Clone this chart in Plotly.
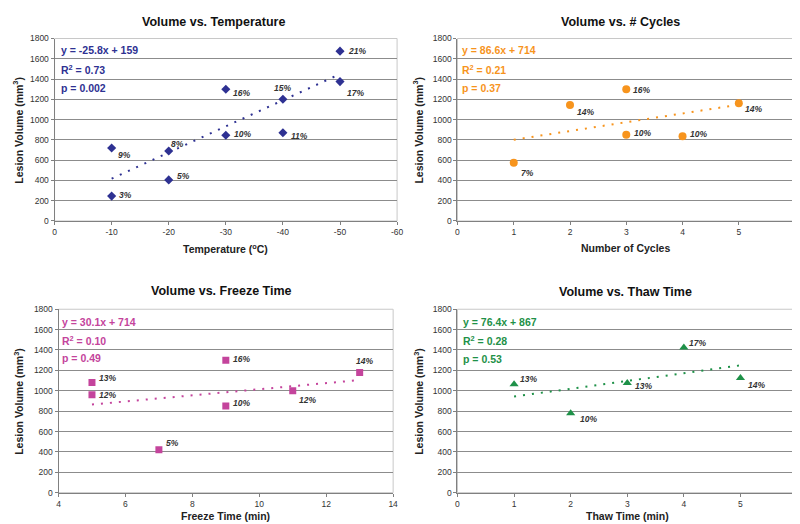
import plotly.graph_objects as go

W, H = 800, 524

# ---------------- data ----------------
temp_x = [-10, -10, -20, -20, -30, -30, -40, -40, -50, -50]
temp_y = [720, 245, 690, 405, 1300, 845, 1200, 870, 1675, 1375]
temp_lbl = ["9%", "3%", "8%", "5%", "16%", "10%", "15%", "11%", "21%", "17%"]
temp_trend_x = [-10, -50]
temp_trend_y = [417, 1449]

cyc_x = [1, 2, 3, 3, 4, 5]
cyc_y = [575, 1145, 1300, 850, 835, 1160]
cyc_lbl = ["7%", "14%", "16%", "10%", "10%", "14%"]
cyc_trend_x = [1, 5]
cyc_trend_y = [801, 1147]

frz_x = [5, 5, 7, 9, 9, 11, 13]
frz_y = [1080, 960, 420, 1300, 850, 1000, 1180]
frz_lbl = ["13%", "12%", "5%", "16%", "10%", "12%", "14%"]
frz_trend_x = [5, 13]
frz_trend_y = [865, 1105]

thaw_x = [1, 2, 3, 4, 5]
thaw_y = [1065, 780, 1075, 1425, 1125]
thaw_lbl = ["13%", "10%", "13%", "17%", "14%"]
thaw_trend_x = [1, 5]
thaw_trend_y = [943, 1249]

titles = ["Volume vs. Temperature", "Volume vs. # Cycles",
          "Volume vs. Freeze Time", "Volume vs. Thaw Time"]
xtitles = ["Temperature (<sup>o</sup>C)", "Number of Cycles",
           "Freeze Time (min)", "Thaw Time (min)"]
ytitle = "Lesion Volume (mm<sup>3</sup>)"
equations = [["y = -25.8x + 159", "R<sup>2</sup> = 0.73", "p = 0.002"],
             ["y = 86.6x + 714", "R<sup>2</sup> = 0.21", "p = 0.37"],
             ["y = 30.1x + 714", "R<sup>2</sup> = 0.10", "p = 0.49"],
             ["y = 76.4x + 867", "R<sup>2</sup> = 0.28", "p = 0.53"]]

temp_ticks = [0, -10, -20, -30, -40, -50, -60]
temp_ticktext = ["0", "-10", "-20", "-30", "-40", "-50", "-60"]

# ---------------- styling / layout ----------------
FONT = "Liberation Sans, Arial, sans-serif"
colors = ["#2E3192", "#F7941D", "#C4449C", "#1E9148"]
symbols = ["diamond", "circle", "square", "triangle-up"]
msizes = [7, 8, 7, 8]

# plot areas in pixels: (left, right, top, bottom)
boxes = [(45, 391, 26, 212), (452, 793, 26, 212),
         (49, 387, 302, 489), (452, 795, 302, 489)]

# label offsets (dx px right, dy px down, anchor)
offs = [
    [(4, 7, "left"), (5, -1, "left"), (0, -7, "left"), (6, -4, "left"), (5, 4, "left"),
     (6, -1, "left"), (0, -11, "center"), (6, 3, "left"), (6, 0, "left"), (5, 11, "left")],
    [(5, 10, "left"), (5, 7, "left"), (5, 1, "left"), (6, -2, "left"), (5, -2, "left"), (4, 6, "left")],
    [(5, -5, "left"), (5, 0, "left"), (5, -7, "left"), (5, -1, "left"), (5, -3, "left"),
     (4, 9, "left"), (5, -11, "center")],
    [(4, -5, "left"), (7, 6, "left"), (6, 3, "left"), (3, -4, "left"), (6, 7, "left")],
]

panels = [
    (temp_x, temp_y, temp_lbl, temp_trend_x, temp_trend_y),
    (cyc_x, cyc_y, cyc_lbl, cyc_trend_x, cyc_trend_y),
    (frz_x, frz_y, frz_lbl, frz_trend_x, frz_trend_y),
    (thaw_x, thaw_y, thaw_lbl, thaw_trend_x, thaw_trend_y),
]
xranges = [[0, -60], [0, 6], [4, 14], [0, 6]]
xdticks = [10, 1, 2, 1]


def px(x, y):
    return x / W, 1 - y / H


fig = go.Figure()
annotations = []
shapes = []
layout = {}

title_pos = [(206, 9), (617, 9), (214, 283), (622, 284)]
xtitle_pos = [(218, 240), (622, 240), (218, 513), (624, 513)]
ytitle_x = [8, 412, 9, 413]
eq_left = [49, 455, 51, 456]
eq_rows = [(38, 58, 76), (38, 58, 76), (315, 334, 352), (315, 334, 353)]

for i, (xs, ys, lbls, tx, ty) in enumerate(panels):
    n = i + 1
    xa = "x" if n == 1 else f"x{n}"
    ya = "y" if n == 1 else f"y{n}"
    L, R, T, B = boxes[i]
    fig.add_trace(go.Scatter(
        x=tx, y=ty, mode="lines", xaxis=xa, yaxis=ya,
        line=dict(color=colors[i], width=2, dash="2px,7px"), showlegend=False))
    fig.add_trace(go.Scatter(
        x=xs, y=ys, mode="markers", xaxis=xa, yaxis=ya,
        marker=dict(color=colors[i], symbol=symbols[i], size=msizes[i],
                    line=dict(width=0)), showlegend=False))

    xkey = "xaxis" if n == 1 else f"xaxis{n}"
    ykey = "yaxis" if n == 1 else f"yaxis{n}"
    xd = dict(domain=[L / W, R / W], anchor=ya, range=xranges[i],
              showgrid=False, zeroline=False, showline=True,
              linecolor="#808080", linewidth=1, ticks="outside", ticklen=3,
              tickcolor="#808080", tickfont=dict(family=FONT, size=8.5, color="#333333"),
              fixedrange=True)
    if i == 0:
        xd.update(tickmode="array", tickvals=temp_ticks, ticktext=temp_ticktext)
    else:
        xd.update(dtick=xdticks[i], tick0=0)
    layout[xkey] = xd
    layout[ykey] = dict(domain=[1 - B / H, 1 - T / H], anchor=xa, range=[0, 1800],
                        dtick=200, showgrid=True, gridcolor="#8c8c8c", gridwidth=1,
                        zeroline=False, showline=True, linecolor="#808080",
                        ticks="outside", ticklen=3, tickcolor="#808080",
                        tickfont=dict(family=FONT, size=8.5, color="#333333"),
                        fixedrange=True)
    # plot frame (light top/right border)
    shapes.append(dict(type="rect", xref=f"{xa} domain", yref=f"{ya} domain",
                       x0=0, x1=1, y0=0, y1=1, line=dict(color="#c8c8c8", width=1),
                       layer="below"))

    # titles
    tx_, ty_ = px(*title_pos[i])
    annotations.append(dict(x=tx_, y=ty_, xref="paper", yref="paper", text=f"<b>{titles[i]}</b>",
                            showarrow=False, xanchor="center", yanchor="middle",
                            font=dict(family=FONT, size=12.5, color="#111111")))
    ax_, ay_ = px(*xtitle_pos[i])
    annotations.append(dict(x=ax_, y=ay_, xref="paper", yref="paper", text=f"<b>{xtitles[i]}</b>",
                            showarrow=False, xanchor="center", yanchor="middle",
                            font=dict(family=FONT, size=10.5, color="#222222")))
    yx_, yy_ = px(ytitle_x[i], (T + B) / 2)
    annotations.append(dict(x=yx_, y=yy_, xref="paper", yref="paper", text=f"<b>{ytitle}</b>",
                            showarrow=False, xanchor="center", yanchor="middle",
                            textangle=-90,
                            font=dict(family=FONT, size=10.5, color="#222222")))
    # equations
    for k, line in enumerate(equations[i]):
        ex, ey = px(eq_left[i], eq_rows[i][k])
        annotations.append(dict(x=ex, y=ey, xref="paper", yref="paper", text=f"<b>{line}</b>",
                                showarrow=False, xanchor="left", yanchor="middle",
                                font=dict(family=FONT, size=10.5, color=colors[i])))
    # point labels
    for (xv, yv, lb, (dx, dy, anc)) in zip(xs, ys, lbls, offs[i]):
        annotations.append(dict(x=xv, y=yv, xref=xa, yref=ya, text=f"<b><i>{lb}</i></b>",
                                showarrow=False, xanchor=anc, yanchor="middle",
                                xshift=dx, yshift=-dy,
                                font=dict(family=FONT, size=8.5, color="#333333")))

fig.update_layout(
    width=W, height=H, margin=dict(l=0, r=0, t=0, b=0),
    paper_bgcolor="white", plot_bgcolor="white",
    annotations=annotations, shapes=shapes, showlegend=False,
    **layout)

fig.write_html("out.html", config={"displayModeBar": False})
